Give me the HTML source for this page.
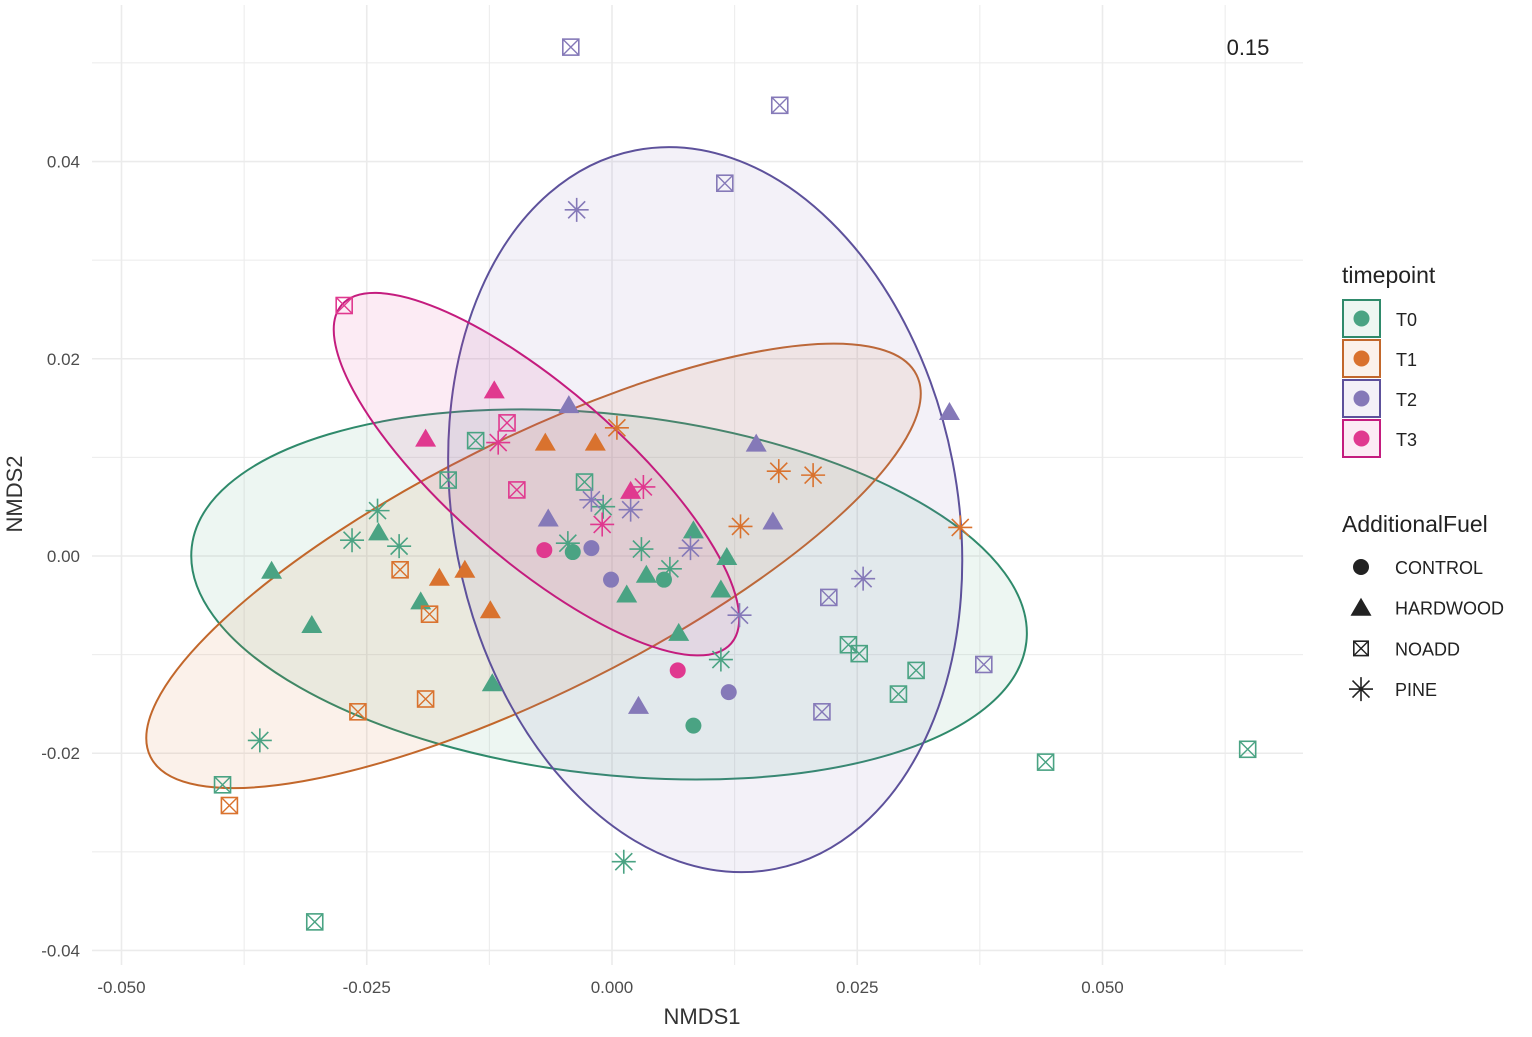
<!DOCTYPE html>
<html><head><meta charset="utf-8"><style>
html,body{margin:0;padding:0;background:#fff;}
svg text{font-family:"Liberation Sans",sans-serif;}
</style></head><body>
<svg id="chart" width="1532" height="1032" xmlns="http://www.w3.org/2000/svg">
<rect width="1532" height="1032" fill="#fff"/>
<g id="grid"></g>
<g id="ellipses"></g>
<g id="points"></g>
<g id="axes"></g>
<text x="1248" y="55" font-size="22" fill="#222" text-anchor="middle">0.15</text>
<text x="702" y="1024" font-size="22" fill="#333" text-anchor="middle">NMDS1</text>
<text transform="translate(22,494) rotate(-90)" font-size="22" fill="#333" text-anchor="middle">NMDS2</text>
<g id="legend"></g>
</svg>
<script>
const xTicks=[-0.05,-0.025,0,0.025,0.05];
const xTickLabels=["-0.050","-0.025","0.000","0.025","0.050"];
const yTicks=[-0.04,-0.02,0,0.02,0.04];
const yTickLabels=["-0.04","-0.02","0.00","0.02","0.04"];
const groups=["T0","T1","T2","T3"];
const shapesList=["CONTROL","HARDWOOD","NOADD","PINE"];
const fillColors={T0:"#4aa383",T1:"#d9722e",T2:"#8579b8",T3:"#e0398f"};
const lineColors={T0:"#2f8a6b",T1:"#c2672b",T2:"#5d519b",T3:"#c41c7e"};
const ptsT0=[[-0.0397,-0.0232,"NOADD"],[-0.0303,-0.0371,"NOADD"],[0.0241,-0.0090,"NOADD"],[0.0252,-0.0099,"NOADD"],[0.0292,-0.0140,"NOADD"],[0.0310,-0.0116,"NOADD"],[0.0442,-0.0209,"NOADD"],[0.0648,-0.0196,"NOADD"],[-0.0167,0.0077,"NOADD"],[-0.0139,0.0117,"NOADD"],[-0.0028,0.0075,"NOADD"],
[-0.0239,0.0046,"PINE"],[-0.0265,0.0016,"PINE"],[-0.0217,0.0010,"PINE"],[-0.0359,-0.0187,"PINE"],[0.0012,-0.0310,"PINE"],[0.0111,-0.0105,"PINE"],[-0.0045,0.0013,"PINE"],[0.0059,-0.0013,"PINE"],[-0.0009,0.0050,"PINE"],[0.0030,0.0007,"PINE"],
[-0.0347,-0.0015,"HARDWOOD"],[-0.0306,-0.0070,"HARDWOOD"],[-0.0238,0.0024,"HARDWOOD"],[-0.0195,-0.0046,"HARDWOOD"],[-0.0122,-0.0129,"HARDWOOD"],[0.0015,-0.0039,"HARDWOOD"],[0.0035,-0.0019,"HARDWOOD"],[0.0068,-0.0078,"HARDWOOD"],[0.0083,0.0026,"HARDWOOD"],[0.0117,-0.0001,"HARDWOOD"],[0.0111,-0.0034,"HARDWOOD"],
[-0.0040,0.0004,"CONTROL"],[0.0053,-0.0024,"CONTROL"],[0.0083,-0.0172,"CONTROL"]];
const ptsT1=[[-0.0390,-0.0253,"NOADD"],[-0.0259,-0.0158,"NOADD"],[-0.0190,-0.0145,"NOADD"],[-0.0216,-0.0014,"NOADD"],[-0.0186,-0.0059,"NOADD"],
[0.0005,0.0130,"PINE"],[0.0131,0.0030,"PINE"],[0.0170,0.0086,"PINE"],[0.0205,0.0082,"PINE"],[0.0355,0.0029,"PINE"],
[-0.0176,-0.0022,"HARDWOOD"],[-0.0150,-0.0014,"HARDWOOD"],[-0.0124,-0.0055,"HARDWOOD"],[-0.0068,0.0115,"HARDWOOD"],[-0.0017,0.0115,"HARDWOOD"]];
const ptsT2=[[-0.0042,0.0516,"NOADD"],[0.0171,0.0457,"NOADD"],[0.0115,0.0378,"NOADD"],[0.0221,-0.0042,"NOADD"],[0.0214,-0.0158,"NOADD"],[0.0379,-0.0110,"NOADD"],
[-0.0036,0.0351,"PINE"],[0.0256,-0.0023,"PINE"],[0.0130,-0.0060,"PINE"],[-0.0021,0.0057,"PINE"],[0.0019,0.0047,"PINE"],[0.0080,0.0008,"PINE"],
[-0.0044,0.0153,"HARDWOOD"],[-0.0065,0.0038,"HARDWOOD"],[0.0147,0.0114,"HARDWOOD"],[0.0164,0.0035,"HARDWOOD"],[0.0344,0.0146,"HARDWOOD"],[0.0027,-0.0152,"HARDWOOD"],
[-0.0021,0.0008,"CONTROL"],[-0.0001,-0.0024,"CONTROL"],[0.0119,-0.0138,"CONTROL"]];
const ptsT3=[[-0.0273,0.0254,"NOADD"],[-0.0107,0.0135,"NOADD"],[-0.0097,0.0067,"NOADD"],
[-0.0116,0.0115,"PINE"],[0.0032,0.0070,"PINE"],[-0.0010,0.0032,"PINE"],
[-0.0120,0.0168,"HARDWOOD"],[-0.0190,0.0119,"HARDWOOD"],[0.0019,0.0066,"HARDWOOD"],
[-0.0069,0.0006,"CONTROL"],[0.0067,-0.0116,"CONTROL"]];
const ellipseCenters={T0:[-0.0003,-0.0039],T1:[-0.0080,-0.0010],T2:[0.0095,0.0047],T3:[-0.0077,0.0083]};

const NS="http://www.w3.org/2000/svg";
const X=v=>612+v*9810;
const Y=v=>556-v*9862;
function mk(t,a,p){const e=document.createElementNS(NS,t);for(const k in a)e.setAttribute(k,a[k]);p.appendChild(e);return e;}
const grid=document.getElementById('grid');
for(let v=-0.0625;v<=0.07;v+=0.0125){const px=X(v);if(px<92||px>1303)continue;
 const l=mk('line',{x1:px,x2:px,y1:5,y2:965,stroke:"#ebebeb","stroke-width":Math.abs(Math.round(v/0.025)*0.025-v)<1e-6?1.6:1},grid);
 }
for(let v=-0.05;v<=0.06;v+=0.01){const py=Y(v);if(py<5||py>965)continue;
 const l=mk('line',{x1:92,x2:1303,y1:py,y2:py,stroke:"#ebebeb","stroke-width":Math.abs(Math.round(v/0.02)*0.02-v)<1e-6?1.6:1},grid);
 }
const axes=document.getElementById('axes');
xTicks.forEach((v,i)=>{const t=mk('text',{x:X(v),y:993,"font-size":17,fill:"#4d4d4d","text-anchor":"middle"},axes);t.textContent=xTickLabels[i];
 });
yTicks.forEach((v,i)=>{const t=mk('text',{x:80,y:Y(v)+6,"font-size":17,fill:"#4d4d4d","text-anchor":"end"},axes);t.textContent=yTickLabels[i];
 });
const ellGeom={T0:[420,180,6.5],T1:[428,127,-26.5],T2:[366,252,79],T3:[258,86,41]};
const eg=document.getElementById('ellipses');
groups.forEach(g=>{const c=ellipseCenters[g],p=ellGeom[g];
 const e=mk('ellipse',{cx:X(c[0]),cy:Y(c[1]),rx:p[0],ry:p[1],transform:`rotate(${p[2]} ${X(c[0])} ${Y(c[1])})`,fill:fillColors[g],"fill-opacity":0.1,stroke:lineColors[g],"stroke-width":2},eg);
 });
function drawShape(parent,shape,cx,cy,col,s){
 s=s||1;const g=mk('g',{},parent);
 if(shape==="CONTROL")mk('circle',{cx,cy,r:8*s,fill:col},g);
 else if(shape==="HARDWOOD")mk('polygon',{points:`${cx},${cy-10*s} ${cx+10.5*s},${cy+8*s} ${cx-10.5*s},${cy+8*s}`,fill:col},g);
 else if(shape==="NOADD"){const h=8*s;mk('rect',{x:cx-h,y:cy-h,width:2*h,height:2*h,fill:"none",stroke:col,"stroke-width":1.6},g);
  mk('path',{d:`M${cx-h} ${cy-h}L${cx+h} ${cy+h}M${cx+h} ${cy-h}L${cx-h} ${cy+h}`,stroke:col,"stroke-width":1.4},g);}
 else{const r=12*s;let d="";for(let k=0;k<4;k++){const a=k*Math.PI/4;d+=`M${cx-r*Math.sin(a)} ${cy-r*Math.cos(a)}L${cx+r*Math.sin(a)} ${cy+r*Math.cos(a)}`;}
  mk('path',{d,stroke:col,"stroke-width":1.6},g);}
 return g;}
const pg=document.getElementById('points');
const allPts={T0:ptsT0,T1:ptsT1,T2:ptsT2,T3:ptsT3};
groups.forEach(g=>{allPts[g].forEach(p=>{const el=drawShape(pg,p[2],X(p[0]),Y(p[1]),fillColors[g]);
 
 });});
const lg=document.getElementById('legend');
let t=mk('text',{x:1342,y:283,"font-size":23,fill:"#222"},lg);t.textContent="timepoint";

groups.forEach((g,i)=>{const y=300+i*40;
 const k=mk('g',{},lg);
 mk('rect',{x:1343,y:y,width:37,height:37,fill:fillColors[g],"fill-opacity":0.1,stroke:lineColors[g],"stroke-width":2},k);
 mk('circle',{cx:1361.5,cy:y+18.5,r:8,fill:fillColors[g]},k);
 const tt=mk('text',{x:1396,y:y+26,"font-size":18,fill:"#222"},k);tt.textContent=g;});
t=mk('text',{x:1342,y:532,"font-size":23,fill:"#222"},lg);t.textContent="AdditionalFuel";

shapesList.forEach((s,i)=>{const y=567+i*40.7;
 const k=mk('g',{},lg);
 drawShape(k,s,1361,y,"#222",s==="NOADD"?0.9:1);
 const tt=mk('text',{x:1395,y:y+7,"font-size":18,fill:"#222"},k);tt.textContent=s;});
</script>
</body></html>
